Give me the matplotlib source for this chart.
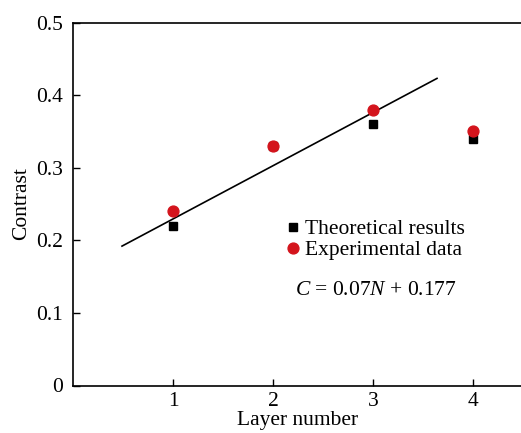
import matplotlib
matplotlib.use("Agg")
import matplotlib.pyplot as plt

layers = [1, 2, 3, 4]
theoretical = [0.22, 0.33, 0.36, 0.34]
experimental = [0.24, 0.33, 0.38, 0.35]
fit_x = [0.49, 3.64]
fit_y = [0.192, 0.423]
yticks = [0, 0.1, 0.2, 0.3, 0.4, 0.5]
yticklabels = ["0", "0.1", "0.2", "0.3", "0.4", "0.5"]
xticks = [1, 2, 3, 4]

plt.rcParams['font.family'] = ['Liberation Serif', 'DejaVu Serif']
plt.rcParams['mathtext.fontset'] = 'custom'
plt.rcParams['mathtext.rm'] = 'Liberation Serif'
plt.rcParams['mathtext.it'] = 'Liberation Serif:italic'

fig = plt.figure(figsize=(5.21, 4.33), dpi=100)
ax = fig.add_axes([73/521, 47.5/433, 450/521, 363/433])

ax.plot(fit_x, fit_y, color='black', lw=1.2, zorder=2)
ax.plot(layers, theoretical, 's', color='black', ms=6, ls='none',
        label='Theoretical results', zorder=3)
ax.plot(layers, experimental, 'o', color='#d4141c', ms=7.8, ls='none',
        label='Experimental data', zorder=4)

ax.set_xlim(0, 4.5)
ax.set_ylim(0, 0.5)
ax.set_xticks(xticks)
ax.set_xticklabels([str(v) for v in xticks])
ax.set_yticks(yticks)
ax.set_yticklabels(yticklabels)
ax.tick_params(direction='in', length=5, width=1, labelsize=15.5, pad=7)
ax.tick_params(axis='x', pad=5)
for s in ax.spines.values():
    s.set_linewidth(1.2)
ax.spines['right'].set_visible(False)

ax.set_xlabel('Layer number', fontsize=15.5, labelpad=-0.5)
ax.set_ylabel('Contrast', fontsize=15.5, labelpad=4)

leg = ax.legend(loc='upper left', bbox_to_anchor=(0.475, 0.458), frameon=False,
                fontsize=15.5, handlelength=0.6, handletextpad=0.25,
                labelspacing=0.05, borderaxespad=0, borderpad=0)

ax.text(0.673, 0.262, r'$C$ = 0.07$N$ + 0.177', transform=ax.transAxes,
        fontsize=15.5, ha='center', va='center')

fig.savefig('out.png', dpi=100)
